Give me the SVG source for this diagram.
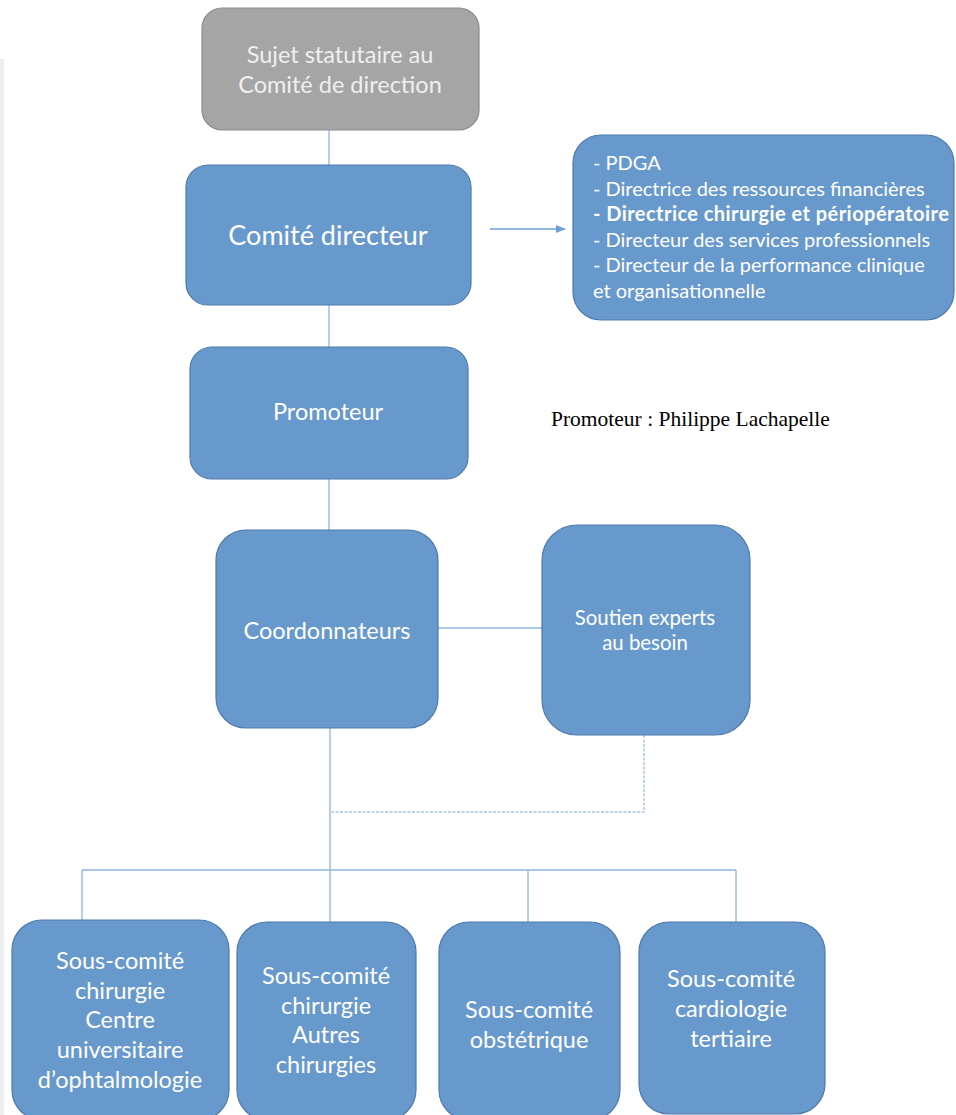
<svg xmlns="http://www.w3.org/2000/svg" width="956" height="1115" viewBox="0 0 956 1115">
  <defs>
    <style>
      .box { fill: #6899cd; stroke: #4f7bab; stroke-width: 1.2; }
      .grey { fill: #a5a5a5; stroke: #8a8a8a; stroke-width: 1.2; }
      .lbl { font-family: Lato, "Open Sans", sans-serif; fill: #ffffff; text-anchor: middle; }
      .glbl { font-family: Lato, "Open Sans", sans-serif; fill: #efefef; text-anchor: middle; }
      .list { font-family: Lato, "Open Sans", sans-serif; fill: #ffffff; font-size: 20px; }
      .wire { stroke: #8fb3e0; stroke-width: 1.3; fill: none; }
      .dots { stroke: #a9c5e8; stroke-width: 1.5; fill: none; stroke-dasharray: 3 1.5; }
    </style>
    <marker id="arrow" markerWidth="10" markerHeight="10" refX="9" refY="5" orient="auto" markerUnits="userSpaceOnUse">
      <path d="M0,1 L10,5 L0,9 Z" fill="#6f9fd8"/>
    </marker>
  </defs>

  <rect width="956" height="1115" fill="#ffffff"/>
  <rect x="0" y="59" width="4" height="1056" fill="#eeeeee"/>

  <!-- connectors -->
  <g id="connectors">
    <line class="wire" x1="329" y1="130" x2="329" y2="165"/>
    <line class="wire" x1="329" y1="305" x2="329" y2="347"/>
    <line class="wire" x1="329" y1="479" x2="329" y2="530"/>
    <line class="wire" x1="438" y1="628" x2="542" y2="628"/>
    <line class="wire" x1="330" y1="728" x2="330" y2="922"/>
    <polyline class="dots" points="644,735 644,812 331,812"/>
    <line class="wire" x1="82" y1="870" x2="736" y2="870"/>
    <line class="wire" x1="82" y1="870" x2="82" y2="920"/>
    <line class="wire" x1="528" y1="870" x2="528" y2="922"/>
    <line class="wire" x1="736" y1="870" x2="736" y2="922"/>
    <line x1="490" y1="229" x2="565" y2="229" stroke="#6f9fd8" stroke-width="1.3" marker-end="url(#arrow)"/>
  </g>

  <g id="sujet">
    <rect class="grey" x="202" y="8" width="277" height="122" rx="20"/>
    <text class="glbl" font-size="23.5" x="340" y="63">Sujet statutaire au</text>
    <text class="glbl" font-size="23.5" x="340" y="93">Comité de direction</text>
  </g>

  <g id="comite-directeur">
    <rect class="box" x="186" y="165" width="285" height="140" rx="22"/>
    <text class="lbl" font-size="27" x="328" y="245">Comité directeur</text>
  </g>

  <g id="membres">
    <rect class="box" x="573" y="135" width="381" height="185" rx="28"/>
    <text class="list" x="593" y="170">- PDGA</text>
    <text class="list" x="593" y="196">- Directrice des ressources financières</text>
    <text class="list" x="593" y="221" font-weight="bold" letter-spacing="0.45">- Directrice chirurgie et périopératoire</text>
    <text class="list" x="593" y="247">- Directeur des services professionnels</text>
    <text class="list" x="593" y="272">- Directeur de la performance clinique</text>
    <text class="list" x="593" y="298">et organisationnelle</text>
  </g>

  <g id="promoteur">
    <rect class="box" x="190" y="347" width="278" height="132" rx="22"/>
    <text class="lbl" font-size="23.5" x="328" y="420">Promoteur</text>
  </g>

  <g id="promoteur-nom">
    <text x="551" y="426" font-family="Liberation Serif, serif" font-size="21.5" fill="#000000">Promoteur : Philippe Lachapelle</text>
  </g>

  <g id="coordonnateurs">
    <rect class="box" x="216" y="530" width="222" height="198" rx="30"/>
    <text class="lbl" font-size="23.5" x="327" y="639">Coordonnateurs</text>
  </g>

  <g id="soutien">
    <rect class="box" x="542" y="525" width="208" height="210" rx="35"/>
    <text class="lbl" font-size="20.4" x="645" y="625">Soutien experts</text>
    <text class="lbl" font-size="20.4" x="645" y="650">au besoin</text>
  </g>

  <g id="sc-ophtalmo">
    <rect class="box" x="12" y="920" width="217" height="200" rx="30"/>
    <text class="lbl" font-size="23.5" x="120" y="969">Sous-comité</text>
    <text class="lbl" font-size="23.5" x="120" y="999">chirurgie</text>
    <text class="lbl" font-size="23.5" x="120" y="1028">Centre</text>
    <text class="lbl" font-size="23.5" x="120" y="1058">universitaire</text>
    <text class="lbl" font-size="23.5" x="120" y="1088">d’ophtalmologie</text>
  </g>

  <g id="sc-autres">
    <rect class="box" x="237" y="922" width="179" height="198" rx="30"/>
    <text class="lbl" font-size="23.5" x="326" y="984">Sous-comité</text>
    <text class="lbl" font-size="23.5" x="326" y="1014">chirurgie</text>
    <text class="lbl" font-size="23.5" x="326" y="1043">Autres</text>
    <text class="lbl" font-size="23.5" x="326" y="1073">chirurgies</text>
  </g>

  <g id="sc-obstetrique">
    <rect class="box" x="439" y="922" width="181" height="198" rx="30"/>
    <text class="lbl" font-size="23.5" x="529" y="1018">Sous-comité</text>
    <text class="lbl" font-size="23.5" x="529" y="1048">obstétrique</text>
  </g>

  <g id="sc-cardio">
    <rect class="box" x="639" y="922" width="186" height="192" rx="30"/>
    <text class="lbl" font-size="23.5" x="731" y="987">Sous-comité</text>
    <text class="lbl" font-size="23.5" x="731" y="1017">cardiologie</text>
    <text class="lbl" font-size="23.5" x="731" y="1047">tertiaire</text>
  </g>
</svg>
